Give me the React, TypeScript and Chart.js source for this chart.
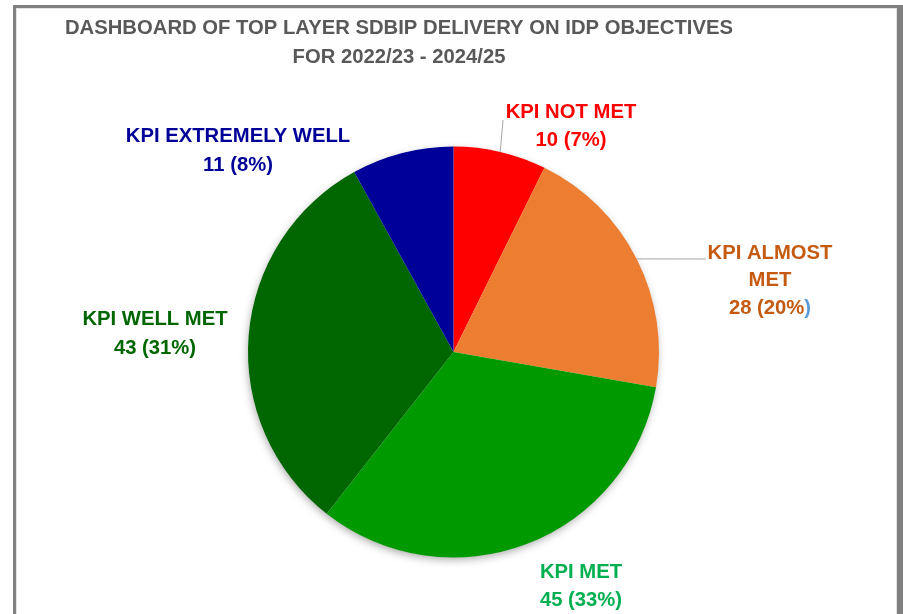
import React, { useEffect, useRef } from "react";
import { Chart, registerables } from "chart.js";

Chart.register(...registerables);

const categories = ["KPI NOT MET", "KPI ALMOST MET", "KPI MET", "KPI WELL MET", "KPI EXTREMELY WELL"];
const values = [10, 28, 45, 43, 11];
const percentLabels = ["7%", "20%", "33%", "31%", "8%"];
const labelLines = [["KPI NOT MET"], ["KPI ALMOST", "MET"], ["KPI MET"], ["KPI WELL MET"], ["KPI EXTREMELY WELL"]];
const titleLines = ["DASHBOARD OF TOP LAYER SDBIP DELIVERY ON IDP OBJECTIVES", "FOR 2022/23 - 2024/25"];

const sliceColors = ["#FF0000", "#ED7D31", "#009900", "#006600", "#000099"];
const labelColors = ["#FF0000", "#C55A11", "#00B050", "#006600", "#000099"];

// label layout: centre x, first line y, line spacing
const labelAnchors = [
  { x: 571, y: 112, dy: 28 },
  { x: 770, y: 253, dy: 27.5 },
  { x: 581, y: 572, dy: 28 },
  { x: 155, y: 319, dy: 29 },
  { x: 238, y: 136, dy: 29 },
];
const leaderEnds: (null | { x: number; y: number })[] = [
  { x: 503, y: 120 },
  { x: 706, y: 259 },
  null,
  null,
  null,
];

const FONT = '"Liberation Sans Narrow", "Arial Narrow", "Liberation Sans", Arial, sans-serif';
const H_SCALE = 0.965;

function drawText(ctx: CanvasRenderingContext2D, text: string, x: number, y: number, size: number, color: string) {
  ctx.save();
  ctx.font = `bold ${size}px ${FONT}`;
  ctx.fillStyle = color;
  ctx.textAlign = "center";
  ctx.textBaseline = "middle";
  ctx.translate(x, y);
  ctx.scale(H_SCALE, 1);
  ctx.fillText(text, 0, 0);
  ctx.restore();
}

const decorPlugin = {
  id: "decor",
  beforeDatasetsDraw(chart: any) {
    const ctx: CanvasRenderingContext2D = chart.ctx;
    const arc = chart.getDatasetMeta(0).data[0];
    if (!arc) return;
    const { x, y, outerRadius } = arc.getProps(["x", "y", "outerRadius"], true);
    ctx.save();
    ctx.shadowColor = "rgba(0,0,0,0.35)";
    ctx.shadowBlur = 9;
    ctx.shadowOffsetX = -1;
    ctx.shadowOffsetY = 3;
    ctx.fillStyle = "#ffffff";
    ctx.beginPath();
    ctx.arc(x, y, outerRadius - 1, 0, Math.PI * 2);
    ctx.fill();
    ctx.restore();
  },
  afterDraw(chart: any) {
    const ctx: CanvasRenderingContext2D = chart.ctx;
    // frame
    ctx.save();
    ctx.fillStyle = "#E3E3E3";
    ctx.fillRect(16, 8, 881, 1);
    ctx.fillRect(16, 8, 1, 606);
    ctx.fillRect(896, 8, 1, 606);
    ctx.fillStyle = "#808080";
    ctx.fillRect(13, 5, 890, 3);
    ctx.fillRect(13, 5, 3, 609);
    ctx.fillRect(897, 5, 6, 609);
    ctx.restore();

    // title
    drawText(ctx, titleLines[0], 399, 28, 21, "#595959");
    drawText(ctx, titleLines[1], 399, 57, 21, "#595959");

    const meta = chart.getDatasetMeta(0);
    meta.data.forEach((el: any, i: number) => {
      const p = el.getProps(["x", "y", "startAngle", "endAngle", "outerRadius"], true);
      const end = leaderEnds[i];
      if (end) {
        const mid = (p.startAngle + p.endAngle) / 2;
        const sx = p.x + Math.cos(mid) * p.outerRadius;
        const sy = p.y + Math.sin(mid) * p.outerRadius;
        ctx.save();
        ctx.strokeStyle = "#A6A6A6";
        ctx.lineWidth = 1;
        ctx.beginPath();
        ctx.moveTo(sx, sy);
        ctx.lineTo(end.x, end.y);
        ctx.stroke();
        ctx.restore();
      }
      const a = labelAnchors[i];
      const lines = [...labelLines[i], `${values[i]} (${percentLabels[i]})`];
      lines.forEach((t, k) => {
        const ty = a.y + k * a.dy;
        if (i === 1 && k === lines.length - 1) {
          // last ")" drawn in blue as in the reference
          ctx.save();
          ctx.font = `bold 21px ${FONT}`;
          const full = ctx.measureText(t).width * H_SCALE;
          const body = t.slice(0, -1);
          const bw = ctx.measureText(body).width * H_SCALE;
          ctx.restore();
          const left = a.x - full / 2;
          drawText(ctx, body, left + bw / 2, ty, 21, labelColors[i]);
          const pw = full - bw;
          drawText(ctx, ")", left + bw + pw / 2, ty, 21, "#5B9BD5");
        } else {
          drawText(ctx, t, a.x, ty, 21, labelColors[i]);
        }
      });
    });
  },
};

export default function App() {
  const ref = useRef<HTMLCanvasElement>(null);
  useEffect(() => {
    if (!ref.current) return;
    const chart = new Chart(ref.current, {
      type: "pie",
      data: {
        labels: categories,
        datasets: [
          {
            data: values,
            backgroundColor: sliceColors,
            borderWidth: 0,
          },
        ],
      },
      options: {
        responsive: false,
        animation: false,
        devicePixelRatio: 1,
        layout: { padding: { top: 146.5, bottom: 56.5, left: 248, right: 244 } },
        plugins: {
          legend: { display: false },
          title: { display: false },
          tooltip: { enabled: false },
        },
      },
      plugins: [decorPlugin],
    });
    return () => chart.destroy();
  }, []);
  return (
    <div style={{ position: "absolute", left: 0, top: 0, width: 903, height: 614, background: "#fff" }}>
      <canvas ref={ref} width={903} height={614} style={{ display: "block", width: 903, height: 614 }} />
    </div>
  );
}
